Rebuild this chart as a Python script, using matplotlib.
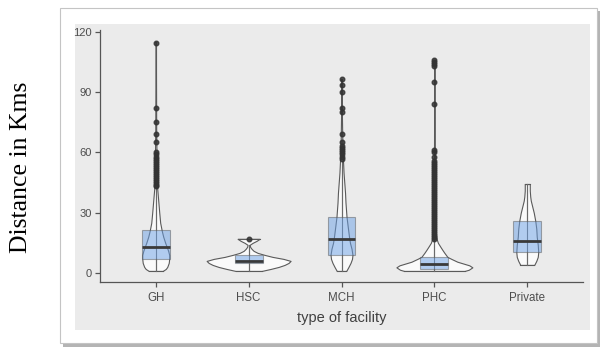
import numpy as np
import matplotlib
matplotlib.use("Agg")
import matplotlib.pyplot as plt
from matplotlib.patches import Rectangle

plt.rcParams["font.family"] = ["Liberation Sans", "DejaVu Sans"]

# categories
facilities = ["GH", "HSC", "MCH", "PHC", "Private"]

# box statistics (km)
whis_lo = [1.0, 1.0, 1.0, 1.0, 4.0]
q1 = [7.0, 4.8, 9.0, 2.0, 10.3]
median = [13.0, 6.0, 17.0, 4.5, 16.0]
q3 = [21.4, 8.8, 28.0, 7.8, 26.0]
whis_hi = [43.0, 14.0, 56.0, 16.5, 44.3]

# outliers
gh_out = [43.5, 44, 45, 46, 47, 48, 49, 50, 51, 52, 53, 54, 55, 56, 57, 58, 59, 60,
          65, 69, 75, 82, 114.7]
hsc_out = [17.0]
mch_out = [57, 58, 59, 60, 61, 62, 63, 65.4, 69.2, 80.3, 82, 90, 93.5, 96.5]
phc_out = [17, 18, 19, 20, 21, 22, 23, 24, 25, 26, 27, 28, 29, 30, 31, 32, 33, 34,
           35, 36, 37, 38, 39, 40, 41, 42, 43, 44, 45, 46, 47, 48, 49, 50, 51, 52,
           53, 54, 55, 56, 58, 60, 61, 84, 95, 103, 104, 105, 106]
private_out = []
outliers = [gh_out, hsc_out, mch_out, phc_out, private_out]

# violin profiles: distance value and half width (in category units)
gh_v = [1, 2, 3, 5, 7, 9, 11, 13, 15, 18, 21, 25, 30, 36, 42, 50, 60, 70, 85, 100, 115]
gh_w = [0.075, 0.108, 0.124, 0.140, 0.145, 0.145, 0.134, 0.118, 0.102, 0.081, 0.065,
        0.048, 0.038, 0.027, 0.016, 0.011, 0.008, 0.005, 0.004, 0.003, 0.003]
hsc_v = [1, 2, 3, 4, 5, 6, 7, 8, 9, 10, 11, 12, 13, 14, 15, 16, 17]
hsc_w = [0.140, 0.237, 0.323, 0.387, 0.430, 0.452, 0.376, 0.258, 0.172, 0.097, 0.054,
         0.032, 0.016, 0.011, 0.043, 0.086, 0.118]
mch_v = [1, 3, 5, 7, 9, 12, 15, 18, 22, 28, 35, 40, 50, 56, 65, 80, 96.5]
mch_w = [0.051, 0.075, 0.097, 0.113, 0.118, 0.108, 0.091, 0.081, 0.070, 0.054, 0.043,
         0.038, 0.022, 0.016, 0.009, 0.004, 0.003]
phc_v = [1, 1.6, 2.8, 3.8, 5, 5.6, 7, 8, 10, 11.5, 13, 15, 16.5, 20, 30, 40, 60, 80, 106]
phc_w = [0.325, 0.37, 0.409, 0.376, 0.29, 0.247, 0.183, 0.140, 0.108, 0.086, 0.065,
         0.038, 0.027, 0.016, 0.011, 0.008, 0.004, 0.003, 0.003]
pri_v = [4, 6, 8, 10.3, 14, 18, 22, 26, 30, 33, 36, 38, 41, 44.3]
pri_w = [0.075, 0.097, 0.113, 0.118, 0.113, 0.102, 0.097, 0.086, 0.070, 0.054, 0.038,
         0.032, 0.027, 0.027]
violins = [(gh_v, gh_w), (hsc_v, hsc_w), (mch_v, mch_w), (phc_v, phc_w), (pri_v, pri_w)]

yticks = [0, 30, 60, 90, 120]

W, H = 601, 349
fig = plt.figure(figsize=(W / 100, H / 100), dpi=100)
fig.patch.set_facecolor("white")

def px_rect(x0, y0, x1, y1, **kw):
    r = Rectangle((x0 / W, 1 - y1 / H), (x1 - x0) / W, (y1 - y0) / H,
                  transform=fig.transFigure, **kw)
    fig.patches.append(r)

# framed picture with shadow and grey panel
px_rect(63, 11, 600, 347, facecolor="#b4b4b4", edgecolor="none", zorder=0)
px_rect(60, 8, 597, 343, facecolor="white", edgecolor="#c4c4c4", lw=0.8, zorder=1)
px_rect(75, 24, 590, 330, facecolor="#ebebeb", edgecolor="none", zorder=2)

ax = fig.add_axes([100 / W, 1 - 282 / H, (583 - 100) / W, (282 - 30) / H])
ax.set_facecolor("none")
ax.set_zorder(3)

pos = np.arange(1, len(facilities) + 1)
edge = "#5a5a5a"

for p, (v, w) in zip(pos, violins):
    v = np.array(v)
    w = np.array(w)
    ax.fill_betweenx(v, p - w, p + w, facecolor="#fafafa", edgecolor=edge,
                     lw=0.8, zorder=2)
    # flat ends of trimmed violin
    ax.plot([p - w[0], p + w[0]], [v[0], v[0]], color=edge, lw=0.8, zorder=2)
    ax.plot([p - w[-1], p + w[-1]], [v[-1], v[-1]], color=edge, lw=0.8, zorder=2)

# whisker line running through box
ax.vlines(pos, whis_lo, whis_hi, color="#6a6a6a", lw=0.8, zorder=3)

stats = []
for i, name in enumerate(facilities):
    stats.append(dict(label=name, whislo=whis_lo[i], q1=q1[i], med=median[i],
                      q3=q3[i], whishi=whis_hi[i], fliers=outliers[i]))

ax.bxp(stats, positions=pos, widths=0.3, patch_artist=True, showcaps=False,
       boxprops=dict(facecolor="#6aa0e6", alpha=0.5, edgecolor=edge, lw=0.8),
       medianprops=dict(color="#3a3a3a", lw=2.0),
       whiskerprops=dict(color="#6a6a6a", lw=0.8),
       flierprops=dict(marker="o", markersize=3.3, markerfacecolor="#333333",
                       markeredgecolor="#333333", alpha=0.85),
       zorder=4)

ax.set_xlim(0.4, 5.6)
ax.set_ylim(-4.5, 121)
ax.set_yticks(yticks)
ax.set_xticks(pos)
ax.set_xticklabels(facilities)
for s in ["top", "right"]:
    ax.spines[s].set_visible(False)
for s in ["left", "bottom"]:
    ax.spines[s].set_color("#555555")
    ax.spines[s].set_linewidth(0.9)
ax.tick_params(axis="both", colors="#555555", length=3.5, width=0.9,
               labelsize=8, labelcolor="#4d4d4d", pad=2.5)
ax.tick_params(axis="x", labelsize=8.3, pad=4)
ax.set_xlabel("type of facility", fontsize=10.5, color="#404040", labelpad=5)

fig.text(0.035, 0.52, "Distance in Kms", rotation=90, ha="center", va="center",
         fontsize=18.5, family="Liberation Serif", color="black")

fig.savefig("out.png", dpi=100)
